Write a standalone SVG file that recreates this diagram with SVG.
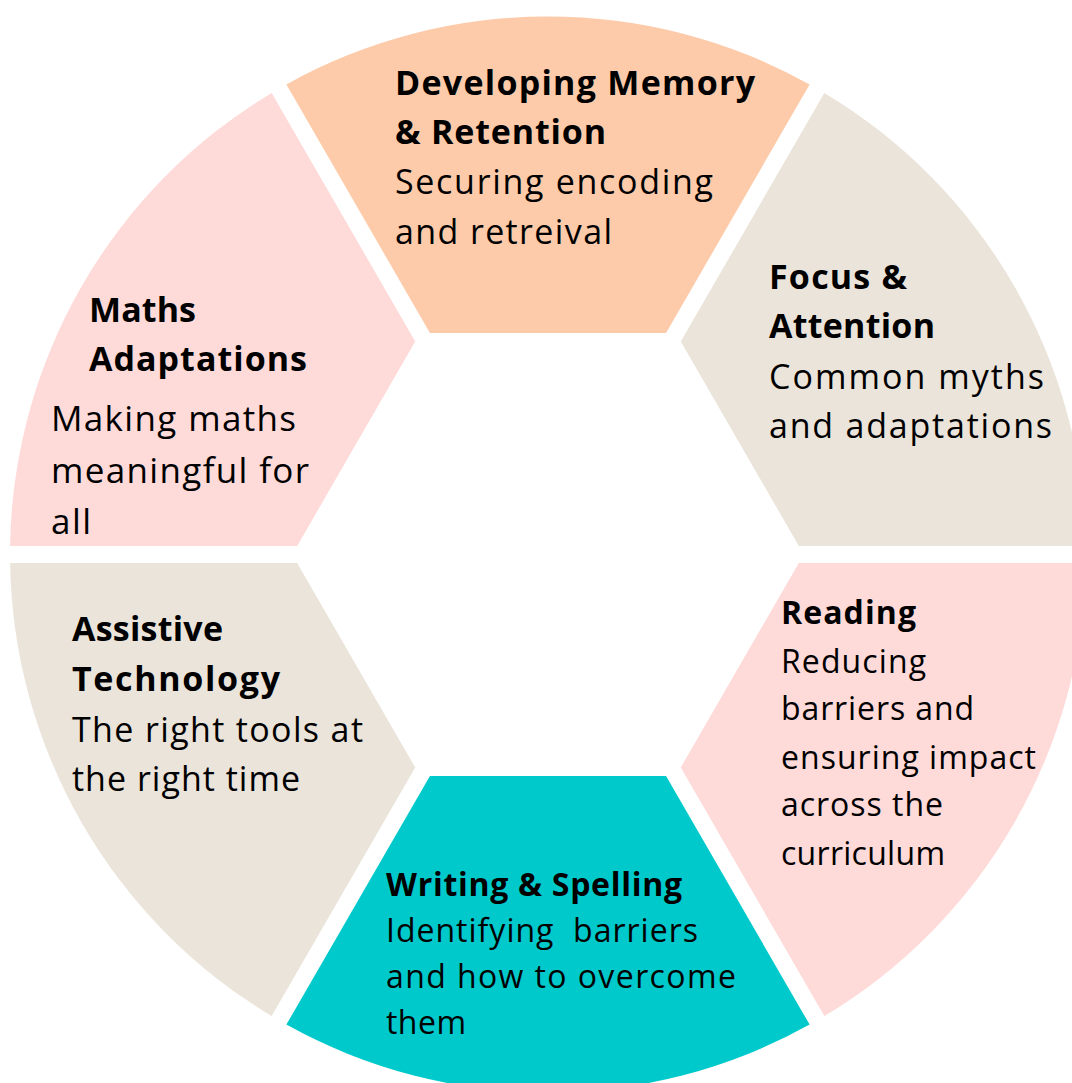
<svg xmlns="http://www.w3.org/2000/svg" width="1072" height="1083" viewBox="0 0 1072 1083">
<style>
.t{font-family:"Open Sans","Noto Sans","DejaVu Sans",sans-serif;font-size:34px;fill:#000;}
.s{font-size:32px;}
.m{font-size:35px;}
.b{font-weight:700;}
.peach{fill:#FDCBA9;}
.beige{fill:#EBE4DA;}
.pink{fill:#FEDAD9;}
.teal{fill:#00C9CB;}
</style>
<rect width="1072" height="1083" fill="#fff"/>
<g id="memory">
<path class="peach" d="M 429.93 333.01 L 286.39 84.39 A 538 538 0 0 1 809.61 84.39 L 666.07 333.01 Z"/>
<text class="t b" x="395" y="95" textLength="360">Developing Memory</text>
<text class="t b" x="395" y="144" textLength="211">&amp; Retention</text>
<text class="t" x="395" y="194" textLength="318">Securing encoding</text>
<text class="t" x="395" y="244" textLength="217">and retreival</text>
</g>
<g id="focus">
<path class="beige" d="M 680.79 341.51 L 824.33 92.89 A 538 538 0 0 1 1085.93 546 L 798.85 546 Z"/>
<text class="t b" x="769" y="289" textLength="138">Focus &amp;</text>
<text class="t b" x="769" y="338" textLength="166">Attention</text>
<text class="t" x="769" y="389" textLength="275">Common myths</text>
<text class="t" x="769" y="438" textLength="283">and adaptations</text>
</g>
<g id="reading">
<path class="pink" d="M 798.85 563 L 1085.93 563 A 538 538 0 0 1 824.33 1016.11 L 680.79 767.49 Z"/>
<text class="t s b" x="781" y="624" textLength="135">Reading</text>
<text class="t s" x="781" y="673" textLength="145">Reducing</text>
<text class="t s" x="781" y="720" textLength="193">barriers and</text>
<text class="t s" x="781" y="769" textLength="255">ensuring impact</text>
<text class="t s" x="781" y="816" textLength="162">across the</text>
<text class="t s" x="781" y="865" textLength="164">curriculum</text>
</g>
<g id="writing">
<path class="teal" d="M 666.07 775.99 L 809.61 1024.61 A 538 538 0 0 1 286.39 1024.61 L 429.93 775.99 Z"/>
<text class="t s b" x="386" y="896" textLength="296">Writing &amp; Spelling</text>
<text class="t s" x="386" y="942" xml:space="preserve" textLength="312">Identifying  barriers</text>
<text class="t s" x="386" y="988" textLength="350">and how to overcome</text>
<text class="t s" x="386" y="1034" textLength="80">them</text>
</g>
<g id="assistive">
<path class="beige" d="M 415.21 767.49 L 271.67 1016.11 A 538 538 0 0 1 10.07 563 L 297.15 563 Z"/>
<text class="t b" x="72" y="641" textLength="151">Assistive</text>
<text class="t b" x="72" y="691" textLength="208">Technology</text>
<text class="t" x="72" y="742" textLength="291">The right tools at</text>
<text class="t" x="72" y="791" textLength="228">the right time</text>
</g>
<g id="maths">
<path class="pink" d="M 297.15 546 L 10.07 546 A 538 538 0 0 1 271.67 92.89 L 415.21 341.51 Z"/>
<text class="t b" x="89" y="322" textLength="107">Maths</text>
<text class="t b" x="89" y="371" textLength="218">Adaptations</text>
<text class="t m" x="51" y="431" textLength="245">Making maths</text>
<text class="t m" x="51" y="483" textLength="258">meaningful for</text>
<text class="t m" x="51" y="534" textLength="40">all</text>
</g>
<g id="connectors"></g>
</svg>
